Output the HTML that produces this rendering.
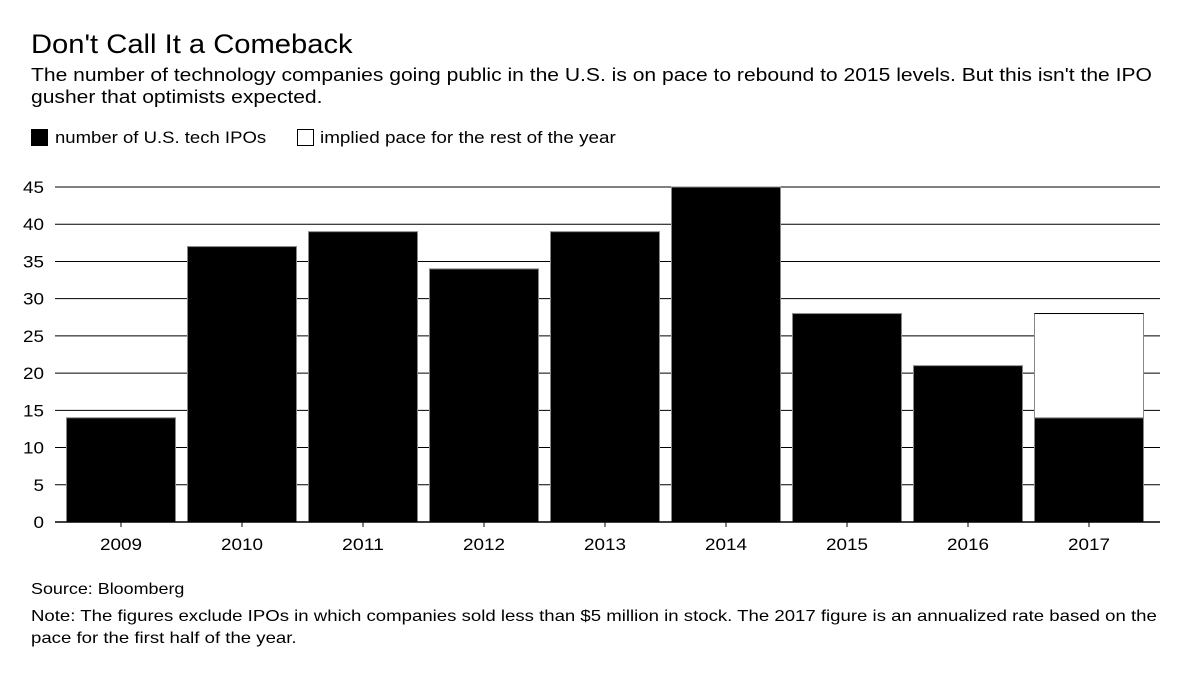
<!DOCTYPE html>
<html><head><meta charset="utf-8"><style>
body{margin:0;background:#fff;font-family:"Liberation Sans",sans-serif;color:#000}
#wrap{position:relative;width:1200px;height:683px;overflow:hidden}
.t{position:absolute;white-space:nowrap;transform-origin:0 0}
</style></head><body><div id="wrap">
<div class="t" style="left:31px;top:29px;font-size:27px;transform:scaleX(1.08)">Don't Call It a Comeback</div>
<div class="t" style="left:31px;top:64px;font-size:18px;line-height:22px;transform:scaleX(1.17)">The number of technology companies going public in the U.S. is on pace to rebound to 2015 levels. But this isn't the IPO<br>gusher that optimists expected.</div>
<div style="position:absolute;left:31px;top:129px;width:17px;height:17px;background:#000"></div>
<div class="t" style="left:55px;top:128px;font-size:17px;transform:scaleX(1.09)">number of U.S. tech IPOs</div>
<div style="position:absolute;left:297px;top:129px;width:15px;height:15px;border:1px solid #000"></div>
<div class="t" style="left:320px;top:128px;font-size:17px;transform:scaleX(1.11)">implied pace for the rest of the year</div>
<svg id="chart" width="1200" height="683" style="position:absolute;left:0;top:0"></svg>
<div class="t" style="left:31px;top:581px;font-size:16px;transform:scaleX(1.12)">Source: Bloomberg</div>
<div class="t" style="left:31px;top:606px;font-size:16px;line-height:22px;transform:scaleX(1.162)">Note: The figures exclude IPOs in which companies sold less than $5 million in stock. The 2017 figure is an annualized rate based on the<br>pace for the first half of the year.</div>
</div>
<script>
const categories=["2009","2010","2011","2012","2013","2014","2015","2016","2017"];
const ipos=[14,37,39,34,39,45,28,21,14];
const implied=[0,0,0,0,0,0,0,0,14];
const yTicks=[0,5,10,15,20,25,30,35,40,45];
const NS="http://www.w3.org/2000/svg";
const svg=document.getElementById('chart');
const y0=522,yTop=187,yMax=45,x0=55,x1=1160,firstC=121,step=121,bw=109;
const y=v=>y0-(v/yMax)*(y0-yTop);
const x=i=>firstC+i*step;
function mk(t,a){const e=document.createElementNS(NS,t);for(const k in a)e.setAttribute(k,a[k]);svg.appendChild(e);return e;}
yTicks.forEach(v=>{
 const l=mk('line',{x1:x0,x2:x1,y1:y(v),y2:y(v),stroke:'#000','stroke-width':1});
 
 
 const t=mk('text',{x:44,y:y(v)+6,'text-anchor':'end','font-size':17,'font-family':'Liberation Sans, sans-serif','textLength':(String(v).length*10.5),'lengthAdjust':'spacingAndGlyphs'});
 t.textContent=v;
 
 
});
categories.forEach((c,i)=>{
 const cx=x(i);
 const b=mk('rect',{x:cx-bw/2,y:y(ipos[i]),width:bw,height:y0-y(ipos[i]),fill:'#000',stroke:'#888','stroke-width':1});
 
 
 if(implied[i]>0){
  const top=ipos[i]+implied[i];
  const r=mk('rect',{x:cx-bw/2,y:y(top),width:bw,height:y(ipos[i])-y(top),fill:'#fff',stroke:'#888','stroke-width':1});
  
  
  const tl=mk('line',{x1:cx-bw/2,x2:cx+bw/2,y1:y(top),y2:y(top),stroke:'#000','stroke-width':1});
  
  
 }
 const tk=mk('line',{x1:cx,x2:cx,y1:y0,y2:y0+5,stroke:'#000'});
 
 
 const t=mk('text',{x:cx,y:550,'text-anchor':'middle','font-size':17,'font-family':'Liberation Sans, sans-serif','textLength':42,'lengthAdjust':'spacingAndGlyphs'});
 t.textContent=c;
 
 
});
const base=mk('line',{x1:x0,x2:x1,y1:y0,y2:y0,stroke:'#000','stroke-width':1.5});


</script></body></html>
